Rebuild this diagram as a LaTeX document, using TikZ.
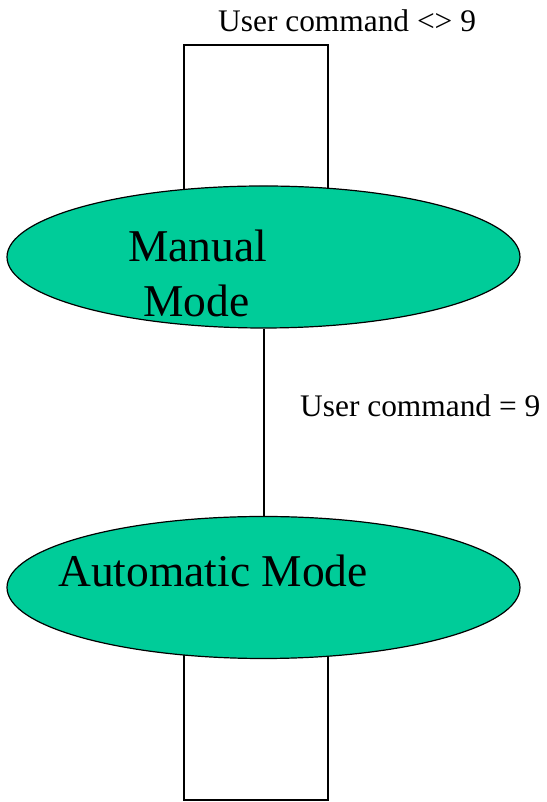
\documentclass[tikz,border=0pt]{standalone}
\usepackage{fontspec}
\setmainfont{Liberation Serif}
\usetikzlibrary{shapes.geometric,backgrounds}
\definecolor{stategreen}{RGB}{0,204,153}
\begin{document}
\begin{tikzpicture}[x=1pt,y=1pt,
  state/.style={ellipse, draw=black, line width=1.2pt, fill=stategreen,
    minimum width=513pt, minimum height=142pt, inner sep=0pt},
  wire/.style={draw=black, line width=2pt},
  lbl/.style={font=\rmfamily\fontsize{31.4}{36}\selectfont, inner sep=0pt, anchor=base west},
  big/.style={font=\rmfamily\fontsize{45.5}{55}\selectfont, inner sep=0pt, anchor=base west}]
\useasboundingbox (0,0) rectangle (546,802);
\node[state] (manual) at (263.5,545) {};
\node[state] (auto) at (263.5,214.5) {};
\coordinate (tl) at (184,757);
\coordinate (tr) at (328,757);
\coordinate (bl) at (184,2);
\coordinate (br) at (328,2);
\begin{scope}[on background layer]
  \draw[wire] (tl |- manual.center) -- (tl) -- (tr) -- (tr |- manual.center);
  \draw[wire] (bl |- auto.center) -- (bl) -- (br) -- (br |- auto.center);
\end{scope}
\draw[wire] (manual.south) -- (auto.north);
\node[big] (mt1) at (128,540) {Manual};
\node[big] (mt2) at (143,485) {Mode};
\node[big] (at) at (58,215) {Automatic Mode};
\node[lbl] (l1) at (218,770) {User command <> 9};
\node[lbl] (l2) at (300,385) {User command = 9};
\end{tikzpicture}
\end{document}
